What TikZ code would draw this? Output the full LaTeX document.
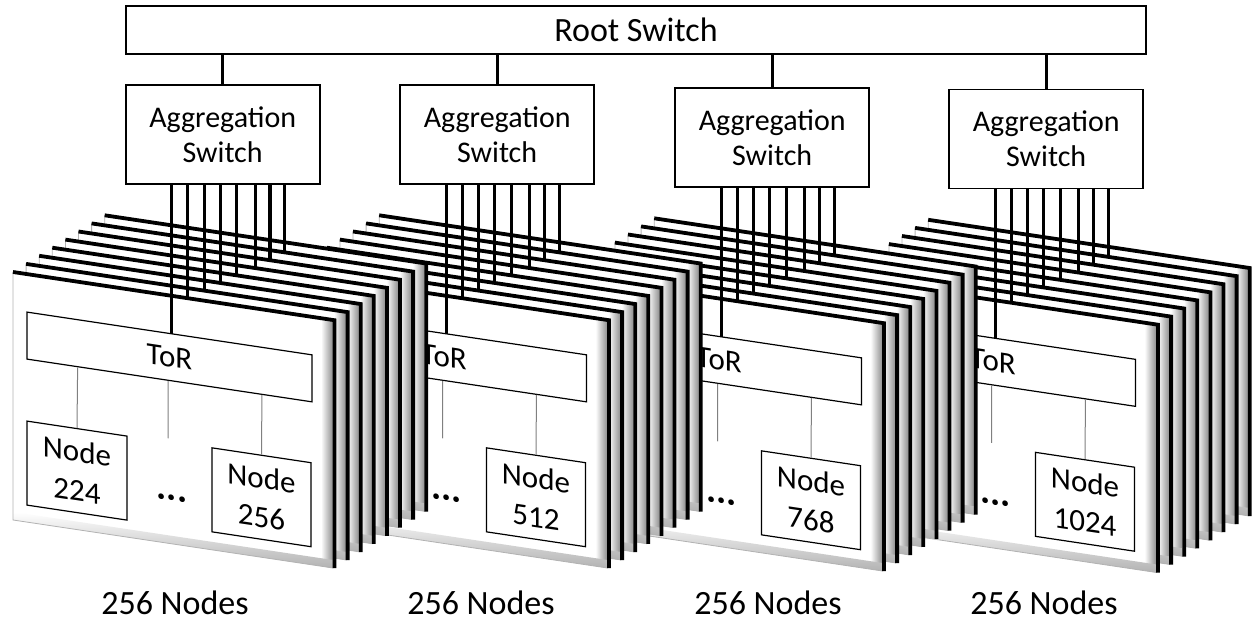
\documentclass[tikz,border=0pt]{standalone}
\usepackage{fontspec}
\setmainfont{Carlito}
\usetikzlibrary{calc}
\tikzset{
  swbox/.style={draw=black, line width=0.8pt, fill=white, inner sep=0pt, align=center},
  uplink/.style={line width=1.6pt},
  wire/.style={line width=1.7pt},
  leaf/.style={draw=gray, line width=0.5pt},
  cardedge/.style={line width=1.9pt, line join=miter, line cap=butt},
  cardtext/.style={font=\fontsize{15.5}{19.5}\selectfont},
  innerbox/.style={swbox, line width=0.6pt, transform shape, cardtext},
}
\begin{document}
\begin{tikzpicture}[x=0.5pt, y=-0.5pt]
\useasboundingbox (0,0) rectangle (1253,620);

% root switch
\node[swbox, minimum width=510pt, minimum height=24pt,
      font=\fontsize{17}{20}\selectfont] (root) at (636,30) {Root Switch};

% aggregation switches and their uplinks
\foreach \g/\dx/\dy in {1/0/0, 2/274.5/0, 3/549.5/3, 4/823.5/4.5}{
  \node[swbox, minimum width=97pt, minimum height=49.5pt,
        font=\fontsize{15}{17.5}\selectfont]
    (agg\g) at ({222.7+\dx},{134.6+\dy}) {Aggregation\\Switch};
  \draw[uplink] (root.south -| agg\g.north) -- (agg\g.north);
}

% rack stacks, drawn right to left and back to front
\foreach \g/\dx/\dy/\num in {4/823.5/4.5/1024, 3/549.5/3/768, 2/274.5/0/512, 1/0/0/256}{
  \foreach \k/\r in {7/159,6/144.3,5/129.5,4/111,3/94.5,2/78.5,1/62,0/46}{
    \begin{scope}[shift={({13+\dx+13.1*\k},{272+\dy-8.1*\k})}, yslant=-0.15]
      \fill[white] (0,0) rectangle (320,248);
      \shade[left color=white, right color=gray!90] (308,0) rectangle (320,248);
      \shade[top color=white, bottom color=gray!60] (0,240) rectangle (320,248);
      \draw[gray!60, line width=0.4pt] (0,0) rectangle (320,248);
      \draw[cardedge] (0,0) -- (321.5,0) -- (321.5,248);
      \coordinate (tor-\g-\k) at ({112.7+\r-13.1*\k},38);
      \ifnum\k=0
        \node[innerbox, minimum width=142.5pt, minimum height=23.5pt]
          (tor\g) at (156.5,61.5) {ToR};
        \node[innerbox, minimum width=49.5pt, minimum height=42pt]
          (nB\g) at (248.5,188) {Node\\\num};
        \coordinate (gap\g) at (155,143);
        \draw[leaf] ($(tor\g.south west)!0.495!(tor\g.south east)$) -- (gap\g);
        \draw[leaf] ($(tor\g.south west)!0.823!(tor\g.south east)$) -- (nB\g.north);
        \node[transform shape, inner sep=0pt, font=\fontsize{19}{19}\selectfont\bfseries]
          (dots\g) at (159,202) {...};
        \ifnum\g=1
          \node[innerbox, minimum width=50pt, minimum height=42pt]
            (nA\g) at (64,189) {Node\\224};
          \draw[leaf] ($(tor\g.south west)!0.179!(tor\g.south east)$) -- (nA\g.north);
        \fi
      \fi
    \end{scope}
    \draw[wire] (agg\g.south -| tor-\g-\k) -- (tor-\g-\k);
  }
}

% capacity labels
\foreach \g/\cx in {1/175, 2/481, 3/768, 4/1044}
  \node[inner sep=0pt, font=\fontsize{17}{20}\selectfont] (count\g) at (\cx,603) {256 Nodes};

\end{tikzpicture}
\end{document}
